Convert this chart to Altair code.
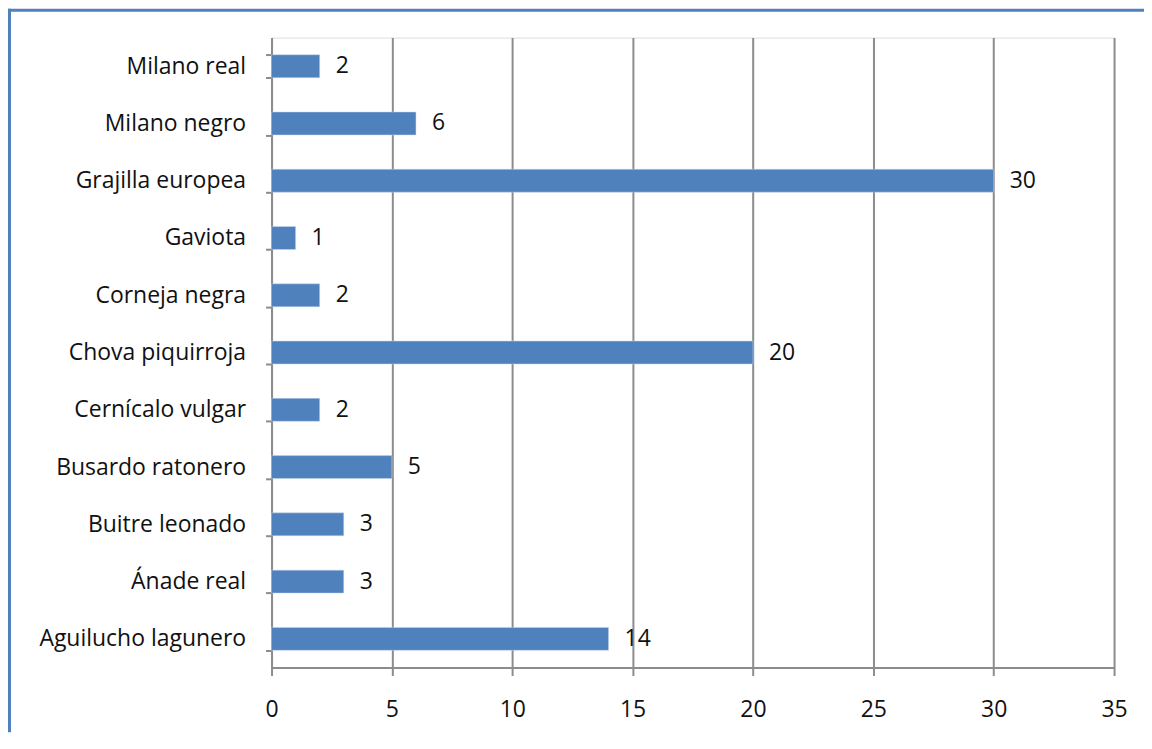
import altair as alt
import pandas as pd

species = ["Milano real", "Milano negro", "Grajilla europea", "Gaviota", "Corneja negra",
           "Chova piquirroja", "Cernícalo vulgar", "Busardo ratonero", "Buitre leonado",
           "Ánade real", "Aguilucho lagunero"]
counts = [2, 6, 30, 1, 2, 20, 2, 5, 3, 3, 14]
x_ticks = [0, 5, 10, 15, 20, 25, 30, 35]

df = pd.DataFrame({"especie": species, "n": counts})

W, H = 844, 631
PL, PT, PR, PB = 264, 29, 30, 65
FONT = "Open Sans"
FS = 23
BLUE = "#4F81BD"
GRID = "#8C8C8C"
TXT = "#111111"

y_enc = alt.Y("especie:N", sort=species, title=None,
              scale=alt.Scale(paddingInner=0.6, paddingOuter=0.3),
              axis=alt.Axis(tickBand="extent", ticks=True, tickSize=6, tickColor=GRID,
                            tickWidth=2, domainColor=GRID, domainWidth=2,
                            labelPadding=20, labelFontSize=FS, labelFont=FONT,
                            labelLimit=400, labelColor=TXT, grid=False))
x_enc = alt.X("n:Q", title=None,
              scale=alt.Scale(domain=[0, 35], nice=False),
              axis=alt.Axis(values=x_ticks, grid=True, gridColor=GRID, gridWidth=2,
                            tickSize=8, tickColor=GRID, tickWidth=2,
                            domainColor=GRID, domainWidth=2,
                            labelPadding=23, labelFontSize=FS, labelFont=FONT,
                            labelColor=TXT, labelFlush=False))

bars = alt.Chart(df).mark_bar(color=BLUE, stroke="#C6D5EA", strokeWidth=0.5).encode(x=x_enc, y=y_enc)
labels = alt.Chart(df).mark_text(align="left", dx=16, fontSize=FS, font=FONT, color=TXT).encode(
    x="n:Q", y=alt.Y("especie:N", sort=species), text="n:Q")

one = pd.DataFrame({"k": [0]})
left_border = alt.Chart(one).mark_rule(color=BLUE, strokeWidth=3).encode(
    x=alt.value(-PL + 1.5), y=alt.value(-PT), y2=alt.value(H + PB))
top_border = alt.Chart(one).mark_rule(color=BLUE, strokeWidth=3).encode(
    y=alt.value(-PT + 1.5), x=alt.value(-PL), x2=alt.value(W + PR))

chart = alt.layer(bars, labels, left_border, top_border).properties(
    width=W, height=H,
    autosize=alt.AutoSizeParams(type="none"),
    padding={"left": PL, "top": PT, "right": PR, "bottom": PB},
).configure_view(stroke=None).configure(background="white")

chart.save("out.html", embed_options={"renderer": "svg", "actions": False})
